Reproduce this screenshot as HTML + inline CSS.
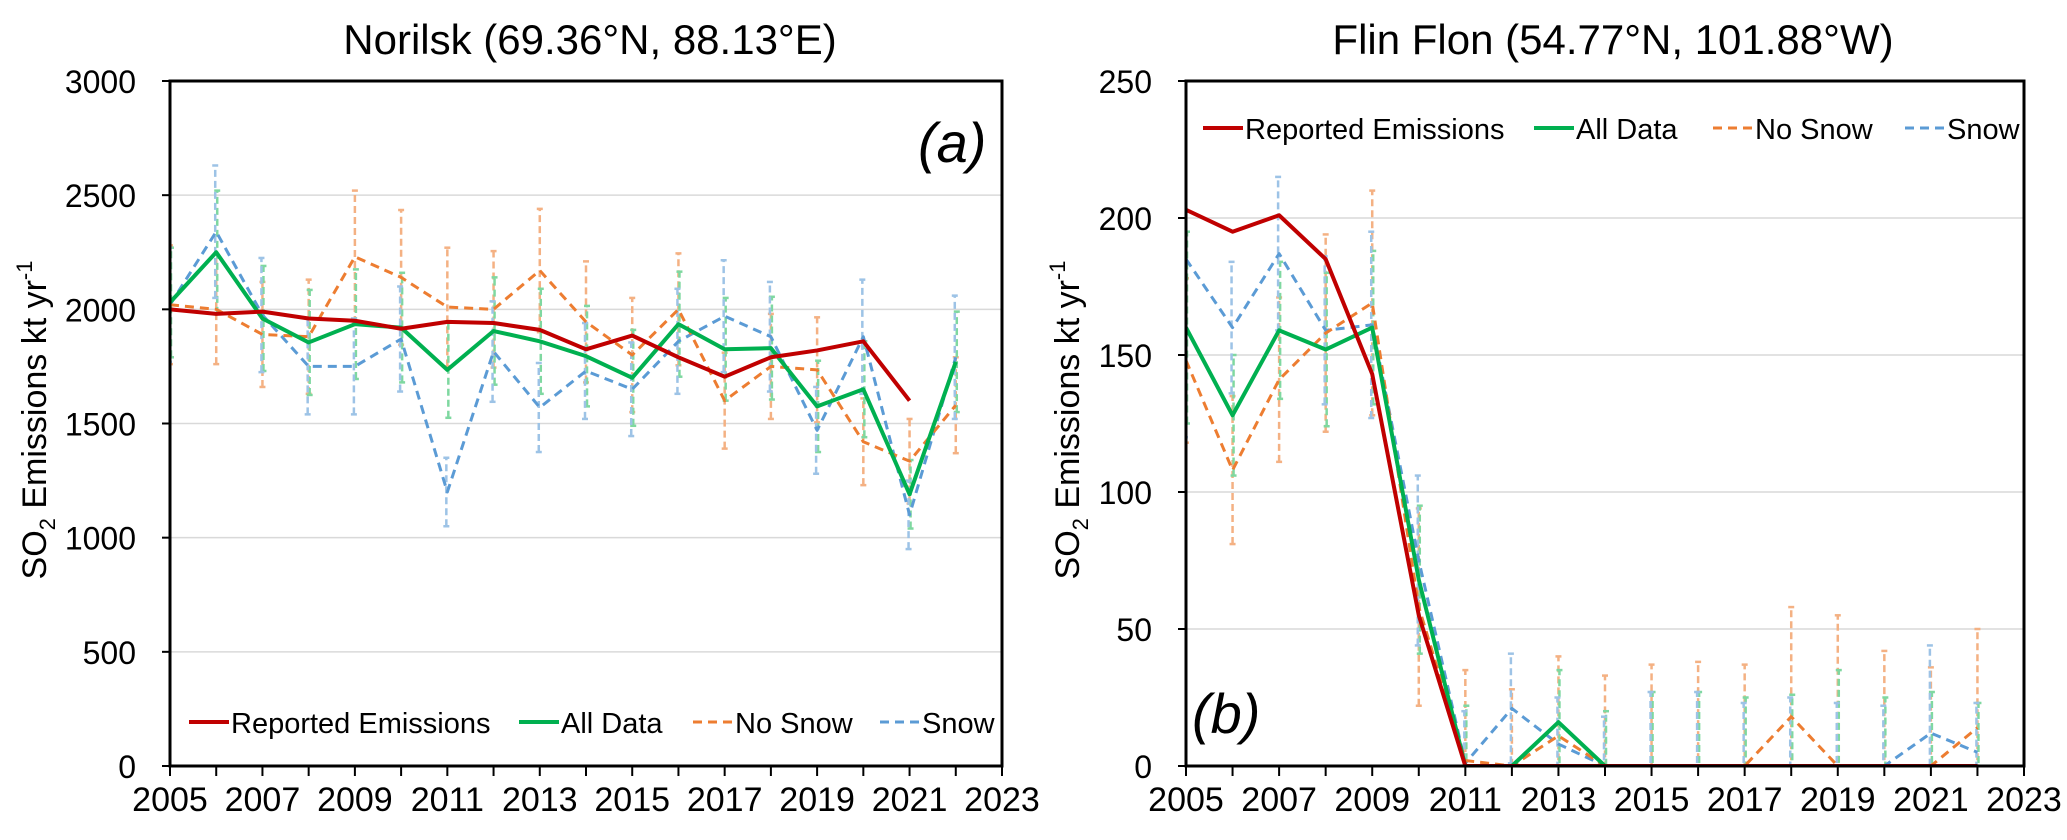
<!DOCTYPE html>
<html><head><meta charset="utf-8"><style>
html,body{margin:0;background:#fff;overflow:hidden;width:2067px;height:840px}
svg{display:block;font-family:"Liberation Sans",sans-serif;overflow:hidden}
</style></head><body>
<svg id="fig" width="2067" height="840" viewBox="0 0 2067 840" xmlns="http://www.w3.org/2000/svg"></svg>
<script>
const years = [2005,2006,2007,2008,2009,2010,2011,2012,2013,2014,2015,2016,2017,2018,2019,2020,2021,2022];
const xTicks = [2005,2007,2009,2011,2013,2015,2017,2019,2021,2023];
// Norilsk
const nReported = [2000,1980,1990,1960,1950,1915,1945,1940,1910,1825,1885,1790,1705,1790,1820,1860,1600];
const nAll = [2030,2250,1960,1855,1935,1920,1735,1905,1860,1795,1700,1935,1825,1830,1575,1650,1190,1770];
const nAllErr = [240,270,230,230,240,240,210,235,230,220,210,230,225,225,200,210,150,220];
const nNoSnow = [2020,2000,1890,1880,2230,2140,2010,2000,2170,1945,1800,2000,1600,1750,1735,1420,1335,1580];
const nNoSnowErr = [260,240,230,250,290,295,260,255,270,265,250,245,210,230,230,190,185,210];
const nSnow = [2020,2340,1975,1750,1750,1870,1200,1815,1570,1730,1650,1860,1970,1880,1470,1880,1100,1790];
const nSnowErr = [250,290,250,210,210,230,150,220,195,210,205,230,245,240,190,250,150,270];
const nYTicks = [0,500,1000,1500,2000,2500,3000];
// Flin Flon
const fReported = [203,195,201,185,143,55,0,0,0,0,0,0,0,0,0,0,0,0];
const fAll = [160,128,159,152,160,68,0,0,16,0,0,0,0,0,0,0,0,0];
const fAllErr = [35,22,25,28,28,27,22,0,19,20,27,27,25,26,35,25,27,23];
const fNoSnow = [148,108,141,158,169,58,2,0,11,0,0,0,0,18,0,0,0,14];
const fNoSnowErr = [30,27,30,36,41,36,33,28,29,33,37,38,37,40,55,42,36,36];
const fSnow = [185,160,187,159,161,75,1,21,8,0,0,0,0,0,0,0,12,5];
const fSnowErr = [65,24,28,27,34,31,19,20,17,18,27,27,23,25,23,22,32,18];
const fYTicks = [0,50,100,150,200,250];

const NS="http://www.w3.org/2000/svg";
const svg=document.getElementById('fig');
function el(tag,attrs,parent){const e=document.createElementNS(NS,tag);for(const k in attrs)e.setAttribute(k,attrs[k]);(parent||svg).appendChild(e);return e;}
const C={rep:'#c00000',all:'#00b050',no:'#ed7d31',snow:'#5b9bd5',noL:'#f4b183',allL:'#7fd8a0',snowL:'#9dc3e6'};

function panel(cfg){
  const g=el('g',{});
  
  
  const L=cfg.left,R=cfg.right,T=81,B=766;
  const xs=v=>L+(v-2005)/(2023-2005)*(R-L);
  const ys=v=>B-(v-cfg.ymin)/(cfg.ymax-cfg.ymin)*(B-T);
  const clipId='clip'+cfg.id;
  const cp=el('clipPath',{id:clipId},g);el('rect',{x:L,y:T-2,width:R-L,height:B-T+2},cp);
  cfg.yt.forEach(t=>{
    if(t>cfg.ymin&&t<cfg.ymax){const gl=el('line',{x1:L,x2:R,y1:ys(t),y2:ys(t),stroke:'#d9d9d9','stroke-width':1.5},g);
    }
    const tx=el('text',{x:L-34,y:ys(t)+12,'text-anchor':'end','font-size':32,fill:'#000'},g);tx.textContent=t;
    
    el('line',{x1:L-8,x2:L,y1:ys(t),y2:ys(t),stroke:'#000','stroke-width':2},g);
  });
  xTicks.forEach(t=>{
    const tx=el('text',{x:xs(t),y:811,'text-anchor':'middle','font-size':34,fill:'#000'},g);tx.textContent=t;
    
  });
  years.concat([2023]).forEach(t=>el('line',{x1:xs(t),x2:xs(t),y1:B,y2:B+10,stroke:'#000','stroke-width':2},g));
  const pg=el('g',{'clip-path':'url(#'+clipId+')'},g);
  function errs(vals,err,col,off){
    vals.forEach((v,i)=>{
      const x=xs(years[i])+off;
      const e=el('line',{x1:x,x2:x,y1:ys(v-err[i]),y2:ys(v+err[i]),stroke:col,'stroke-width':2.5,'stroke-dasharray':'7 4'},pg);
      
      [v-err[i],v+err[i]].forEach(w=>el('line',{x1:x-3,x2:x+3,y1:ys(w),y2:ys(w),stroke:col,'stroke-width':2.5},pg));
    });
  }
  errs(cfg.no,cfg.noE,C.noL,0);errs(cfg.all,cfg.allE,C.allL,1);errs(cfg.snow,cfg.snowE,C.snowL,-1);
  function line(vals,col,dash,w,name){
    const p=el('polyline',{points:vals.map((v,i)=>xs(years[i])+','+ys(v)).join(' '),fill:'none',stroke:col,'stroke-width':w,'stroke-dasharray':dash,'stroke-linejoin':'round'},pg);
    
  }
  line(cfg.snow,C.snow,'9 6',3,'snow-line');
  line(cfg.no,C.no,'9 6',3,'no-snow-line');
  line(cfg.all,C.all,'none',4,'all-data-line');
  line(cfg.rep,C.rep,'none',4,'reported-emissions-line');
  const fr=el('rect',{x:L,y:T,width:R-L,height:B-T,fill:'none',stroke:'#000','stroke-width':3},g);
  
  const ti=el('text',{x:cfg.tx,y:54,'text-anchor':'middle','font-size':42,fill:'#000'},g);ti.textContent=cfg.title;
  
  const yl=el('text',{transform:'translate('+(cfg.ylx)+',420) rotate(-90)','text-anchor':'middle','font-size':34,fill:'#000'},g);
  yl.innerHTML='SO<tspan font-size="22" dy="9">2</tspan><tspan dy="-9"> Emissions kt yr</tspan><tspan font-size="22" dy="-14">-1</tspan>';
  
  const pl=el('text',{x:cfg.plx,y:cfg.ply,'font-size':56,'font-style':'italic',fill:'#000'},g);pl.textContent=cfg.pl;
  
  const lg=el('g',{},g);
  const items=[['Reported Emissions',C.rep,'none',4],['All Data',C.all,'none',4],['No Snow',C.no,'9 6',3],['Snow',C.snow,'9 6',3]];
  items.forEach((it,k)=>{
    const lx=cfg.leg[k],ly=cfg.legy;
    const e=el('g',{},lg);
    el('line',{x1:lx,x2:lx+40,y1:ly,y2:ly,stroke:it[1],'stroke-width':it[3],'stroke-dasharray':it[2]},e);
    const t=el('text',{x:lx+42,y:ly+11,'font-size':29,fill:'#000'},e);t.textContent=it[0];
  });
}
panel({id:'a',name:'norilsk-chart',left:170,right:1002,ymin:0,ymax:3000,yt:nYTicks,rep:nReported,all:nAll,allE:nAllErr,no:nNoSnow,noE:nNoSnowErr,snow:nSnow,snowE:nSnowErr,
 title:'Norilsk (69.36°N, 88.13°E)',tx:590,ylx:46,pl:'(a)',plx:918,ply:162,leg:[189,519,693,880],legy:722});
panel({id:'b',name:'flin-flon-chart',left:1186,right:2024,ymin:0,ymax:250,yt:fYTicks,rep:fReported,all:fAll,allE:fAllErr,no:fNoSnow,noE:fNoSnowErr,snow:fSnow,snowE:fSnowErr,
 title:'Flin Flon (54.77°N, 101.88°W)',tx:1613,ylx:1079,pl:'(b)',plx:1192,ply:733,leg:[1203,1534,1713,1905],legy:128});
</script>
</body></html>
